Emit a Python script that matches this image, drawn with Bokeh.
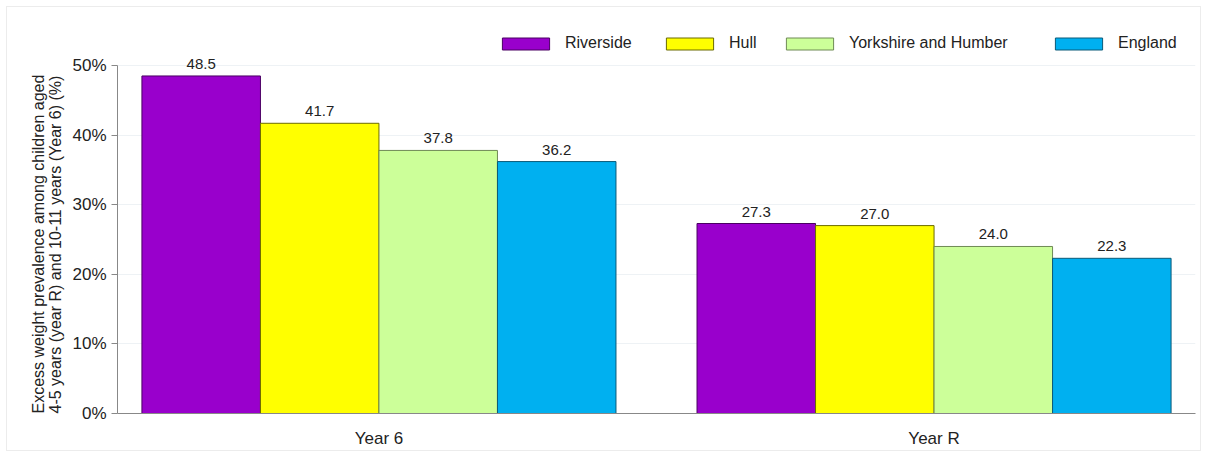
from bokeh.plotting import figure
from bokeh.models import (ColumnDataSource, Range1d, FixedTicker, PrintfTickFormatter,
                          Legend, LegendItem, LabelSet, Title)
from bokeh.core.properties import value
from bokeh.transform import dodge
from bokeh.embed import file_html
from bokeh.resources import INLINE

# ---- data ----
groups = ["Year 6", "Year R"]
series = ["Riverside", "Hull", "Yorkshire and Humber", "England"]
riverside = [48.5, 27.3]
hull = [41.7, 27.0]
yorkshire = [37.8, 24.0]
england = [36.2, 22.3]
colors = ["#9900CC", "#FFFF00", "#CCFF99", "#00B0F0"]
edge_colors = ["#4a0063", "#6b6b00", "#6f8a55", "#0a5a78"]
y_ticks = [0, 10, 20, 30, 40, 50]
y_title = "Excess weight prevalence among children aged\n4-5 years (year R) and 10-11 years (Year 6) (%)"

values = [riverside, hull, yorkshire, england]
gx = list(range(len(groups)))
FONT = "Liberation Sans"
bw = 0.2135
legend_x = [379, 543, 663, 932]  # screen offsets of legend entries from the frame's left edge

p = figure(width=1193, height=443, output_backend="svg", toolbar_location=None,
           x_range=Range1d(-0.471, 1.471), y_range=Range1d(0, 56.47),
           min_border_left=110, min_border_right=5, min_border_top=13, min_border_bottom=37)
p.styles = {"margin-left": "7px", "margin-top": "7px", "outline": "1px solid #ececec"}
p.outline_line_color = None
p.background_fill_color = "white"
p.border_fill_color = "white"

for i, (name, vals) in enumerate(zip(series, values)):
    src = ColumnDataSource(dict(x=gx, y=vals, lab=[f"{v:.1f}" for v in vals]))
    off = (i - 1.5) * bw
    r = p.vbar(x=dodge("x", off), top="y", width=bw, source=src,
               fill_color=colors[i], line_color=edge_colors[i], line_width=1)
    lbl = LabelSet(x=dodge("x", off), y="y", text="lab", source=src,
                   text_align="center", text_baseline="bottom", y_offset=7,
                   text_font=value(FONT), text_font_size=value("15px"), text_color="#222222")
    p.add_layout(lbl)
    leg = Legend(items=[LegendItem(label=name, renderers=[r])], orientation="horizontal",
                 location=(legend_x[i], 361), padding=0, margin=0, spacing=0,
                 glyph_width=59, glyph_height=15, label_height=15, label_standoff=10,
                 border_line_color=None, background_fill_alpha=0,
                 label_text_font=FONT, label_text_font_size="16px",
                 label_text_color="#222222")
    p.add_layout(leg, "center")

# axes
p.xaxis.ticker = FixedTicker(ticks=gx)
p.xaxis.major_label_overrides = {i: g for i, g in enumerate(groups)}
p.xaxis.major_tick_line_color = None
p.xaxis.minor_tick_line_color = None
p.xaxis.axis_line_color = "#888888"
p.xaxis.major_label_text_font = FONT
p.xaxis.major_label_text_font_size = "17px"
p.xaxis.major_label_text_color = "#222222"
p.xaxis.major_label_standoff = 9

p.yaxis.ticker = FixedTicker(ticks=y_ticks)
p.yaxis.bounds = (0, 50)
p.yaxis.formatter = PrintfTickFormatter(format="%d%%")
p.yaxis.minor_tick_line_color = None
p.yaxis.major_tick_in = 0
p.yaxis.major_tick_out = 6
p.yaxis.axis_line_color = "#888888"
p.yaxis.major_tick_line_color = "#888888"
p.yaxis.major_label_text_font = FONT
p.yaxis.major_label_text_font_size = "17px"
p.yaxis.major_label_text_color = "#222222"
p.yaxis.major_label_standoff = 5

ytitle = Title(text=y_title, align="left", offset=0, standoff=11,
               text_font=FONT, text_font_size="16px", text_font_style="normal",
               text_color="#222222", text_line_height=1.0)
p.add_layout(ytitle, "left")

p.xgrid.grid_line_color = None
p.ygrid.grid_line_color = "#eef2f5"
p.ygrid.grid_line_width = 1
p.ygrid.bounds = (0, 50)

open("out.html", "w").write(file_html(p, INLINE))
